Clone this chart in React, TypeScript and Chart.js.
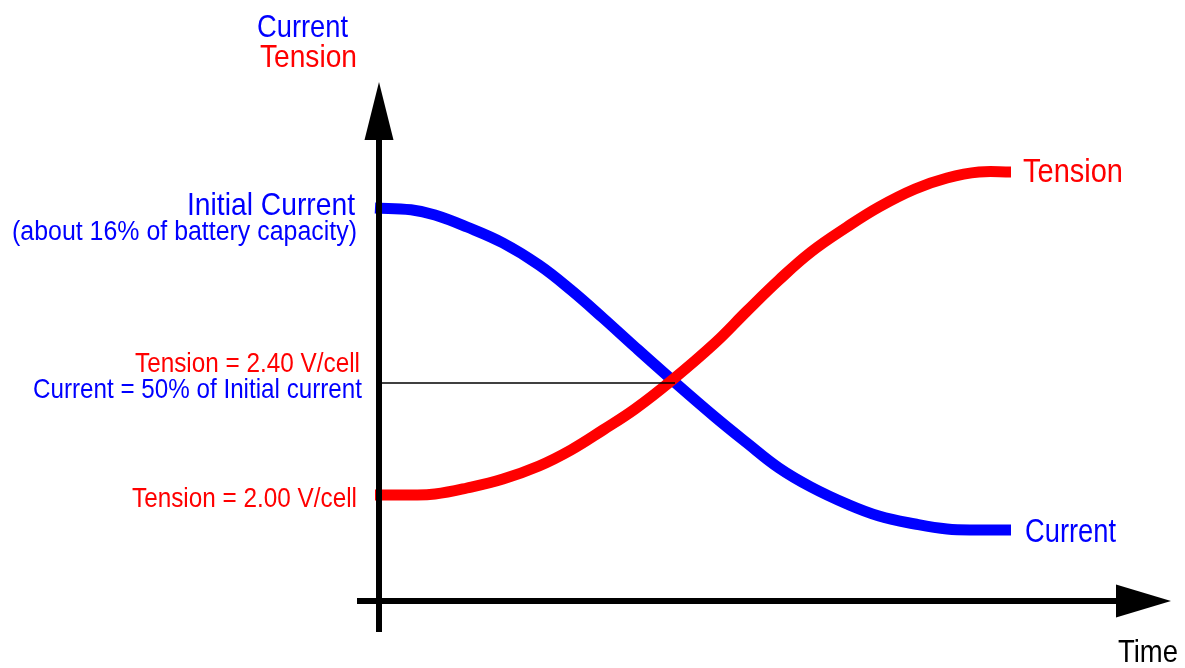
import React, { useEffect, useRef } from "react";
import { Chart, registerables } from "chart.js";

Chart.register(...registerables);

// ---- Data (schematic units) ----
const timeValues = [-0.5, 4, 7, 11, 15.5, 20, 24, 28, 32, 36.5, 42, 46, 50, 54, 58.5, 62.5, 67, 71, 75, 79];
const currentValues = [98.25, 97.8, 96.5, 93.5, 89.5, 84, 77.75, 70.75, 63.5, 55.5, 46, 39.5, 33.25, 28.5, 24.25, 21.25, 19.25, 18, 17.75, 17.75];
const tensionValues = [26.5, 26.5, 26.75, 28.25, 30.5, 33.75, 37.75, 42.75, 48, 55, 64.5, 72.5, 80.25, 87.25, 93.5, 98.5, 103, 105.75, 107.25, 107.25];
const referenceTime = [0, 37];
const referenceLevel = [54.5, 54.5];

const axisYRange = [-7.75, 129.75];
const axisXRange = [-2.75, 99];

const labelTexts = [
  "Current",
  "Tension",
  "Initial Current",
  "(about 16% of battery capacity)",
  "Tension = 2.40 V/cell",
  "Current = 50% of Initial current",
  "Tension = 2.00 V/cell",
  "Tension",
  "Current",
  "Time",
];

// layout for labels: left, right, baseline, font size, colour
const labelLayout = [
  { l: 257, r: 348, b: 37, s: 32, c: "#0000ff" },
  { l: 260, r: 357, b: 67, s: 32, c: "#ff0000" },
  { l: 187, r: 355, b: 215, s: 32, c: "#0000ff" },
  { l: 12, r: 357, b: 240, s: 27, c: "#0000ff" },
  { l: 135, r: 360, b: 372, s: 27, c: "#ff0000" },
  { l: 33, r: 362, b: 398, s: 28, c: "#0000ff" },
  { l: 132, r: 357, b: 507, s: 27, c: "#ff0000" },
  { l: 1023, r: 1123, b: 182, s: 33, c: "#ff0000" },
  { l: 1025, r: 1116, b: 542, s: 33, c: "#0000ff" },
  { l: 1118, r: 1178, b: 662, s: 32, c: "#000000" },
];

const FONT = '"Liberation Sans", Arial, sans-serif';

const decorPlugin = {
  id: "decor",
  afterDatasetsDraw(chart: any) {
    const ctx = chart.ctx as CanvasRenderingContext2D;
    const xs = chart.scales.x;
    const ys = chart.scales.y;
    const x0 = xs.getPixelForValue(0);
    const y0 = ys.getPixelForValue(0);
    const yTop = ys.getPixelForValue(axisYRange[1]);
    const yBot = ys.getPixelForValue(axisYRange[0]);
    const xLeft = xs.getPixelForValue(axisXRange[0]);
    const xRight = xs.getPixelForValue(axisXRange[1]);
    ctx.save();
    ctx.strokeStyle = "#000";
    ctx.fillStyle = "#000";
    ctx.lineWidth = 6;
    ctx.lineCap = "butt";
    // y axis
    ctx.beginPath();
    ctx.moveTo(x0, yBot);
    ctx.lineTo(x0, yTop + 40);
    ctx.stroke();
    ctx.beginPath();
    ctx.moveTo(x0, yTop);
    ctx.lineTo(x0 - 14.5, yTop + 58);
    ctx.lineTo(x0 + 14.5, yTop + 58);
    ctx.closePath();
    ctx.fill();
    // x axis
    ctx.beginPath();
    ctx.moveTo(xLeft, y0);
    ctx.lineTo(xRight - 40, y0);
    ctx.stroke();
    ctx.beginPath();
    ctx.moveTo(xRight, y0);
    ctx.lineTo(xRight - 55, y0 - 16.5);
    ctx.lineTo(xRight - 55, y0 + 16.5);
    ctx.closePath();
    ctx.fill();

    // labels
    labelTexts.forEach((t, i) => {
      const L = labelLayout[i];
      ctx.font = `${L.s}px ${FONT}`;
      ctx.fillStyle = L.c;
      ctx.textBaseline = "alphabetic";
      ctx.textAlign = "left";
      const w = ctx.measureText(t).width;
      const sx = (L.r - L.l) / w;
      ctx.save();
      ctx.translate(L.l, L.b);
      ctx.scale(sx, 1);
      ctx.fillText(t, 0, 0);
      ctx.restore();
    });
    ctx.restore();
  },
};

export default function App() {
  const ref = useRef<HTMLCanvasElement | null>(null);
  useEffect(() => {
    if (!ref.current) return;
    const chart = new Chart(ref.current, {
      type: "line",
      data: {
        datasets: [
          {
            label: "Reference",
            data: referenceTime.map((t, i) => ({ x: t, y: referenceLevel[i] })),
            borderColor: "#000000",
            borderWidth: 1.5,
            pointRadius: 0,
            tension: 0,
          },
          {
            label: "Tension",
            data: timeValues.map((t, i) => ({ x: t, y: tensionValues[i] })),
            borderColor: "#ff0000",
            borderWidth: 11,
            pointRadius: 0,
            tension: 0.4,
            borderCapStyle: "butt",
          },
          {
            label: "Current",
            data: timeValues.map((t, i) => ({ x: t, y: currentValues[i] })),
            borderColor: "#0000ff",
            borderWidth: 11,
            pointRadius: 0,
            tension: 0.4,
            borderCapStyle: "butt",
          },
        ],
      },
      options: {
        animation: false,
        responsive: false,
        maintainAspectRatio: false,
        layout: { padding: { left: 339, right: 6, top: 81, bottom: 27 } },
        scales: {
          x: { type: "linear", min: -5, max: 100, display: false },
          y: { type: "linear", min: -10, max: 130, display: false },
        },
        plugins: {
          legend: { display: false },
          tooltip: { enabled: false },
        },
      },
      plugins: [decorPlugin],
    } as any);
    return () => chart.destroy();
  }, []);
  return (
    <div style={{ position: "fixed", left: 0, top: 0, width: 1185, height: 668, background: "#fff" }}>
      <canvas ref={ref} width={1185} height={668} style={{ display: "block" }} />
    </div>
  );
}
